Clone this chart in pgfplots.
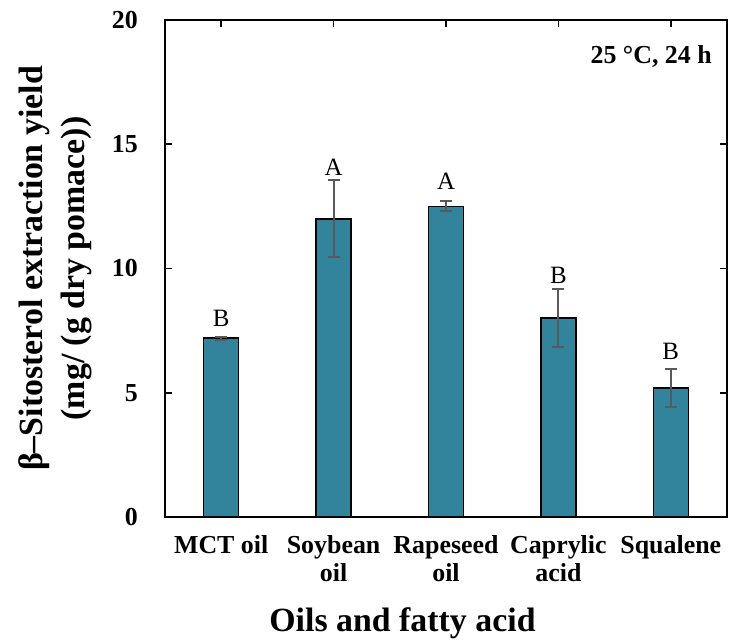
\documentclass[border=0pt]{standalone}
\usepackage{fontspec}
\setmainfont{Liberation Serif}
\usepackage{pgfplots}
\pgfplotsset{compat=1.18}
\definecolor{barc}{RGB}{49,132,155}
\definecolor{errc}{RGB}{89,89,89}
\begin{document}
\begin{tikzpicture}
\useasboundingbox (-165bp,-124bp) rectangle (564bp,517bp);
\begin{axis}[
  at={(0,0)}, anchor=south west,
  scale only axis, width=562bp, height=497bp,
  xmin=-0.5, xmax=4.5, ymin=0, ymax=20,
  xtick={0,1,2,3,4},
  xticklabels={{MCT oil},{Soybean\\oil},{Rapeseed\\oil},{Caprylic\\acid},{Squalene}},
  ytick={0,5,10,15,20},
  tick align=inside,
  major tick length=7bp,
  axis line style={line width=2bp},
  tick style={line width=1.5bp, black},
  /pgf/number format/assume math mode=true,
  xticklabel style={font=\fontsize{26}{28.5}\selectfont\bfseries, align=center, inner sep=0pt, yshift=-18bp},
  yticklabel style={font=\fontsize{26}{28}\selectfont\bfseries, inner sep=0pt, xshift=-27bp},
  ylabel={β–Sitosterol extraction yield\\(mg/ (g dry pomace))},
  ylabel style={font=\fontsize{34}{42}\selectfont\bfseries, align=center, at={(axis description cs:-0.1292,0.5)}, anchor=south, inner sep=0pt},
  xlabel={Oils and fatty acid},
  xlabel style={font=\fontsize{34}{40}\selectfont\bfseries, at={(axis description cs:0.4226,-0.2294)}, anchor=base, inner sep=0pt},
  clip=false,
]
\addplot[ybar, bar width=35bp, fill=barc, draw=black, line width=1.5bp,
  error bars/.cd, y dir=both, y explicit,
  error bar style={errc, line width=2bp},
  error mark options={errc, rotate=90, mark size=6bp, line width=2bp}]
  coordinates {(0,7.2) +- (0,0.06) (1,12.0) +- (0,1.55) (2,12.5) +- (0,0.2) (3,8.0) +- (0,1.17) (4,5.2) +- (0,0.77)};
\addplot[draw=none, nodes near coords, point meta=explicit symbolic,
  nodes near coords style={font=\fontsize{25}{25}\selectfont, anchor=base, inner sep=0pt}]
  coordinates {(0,7.66) [B] (1,13.76) [A] (2,13.16) [A] (3,9.40) [B] (4,6.32) [B]};
\node[anchor=base east, font=\fontsize{26}{26}\selectfont\bfseries, inner sep=0pt] at (axis description cs:0.9733,0.9129) {25 °C, 24 h};
\end{axis}
\end{tikzpicture}
\end{document}
